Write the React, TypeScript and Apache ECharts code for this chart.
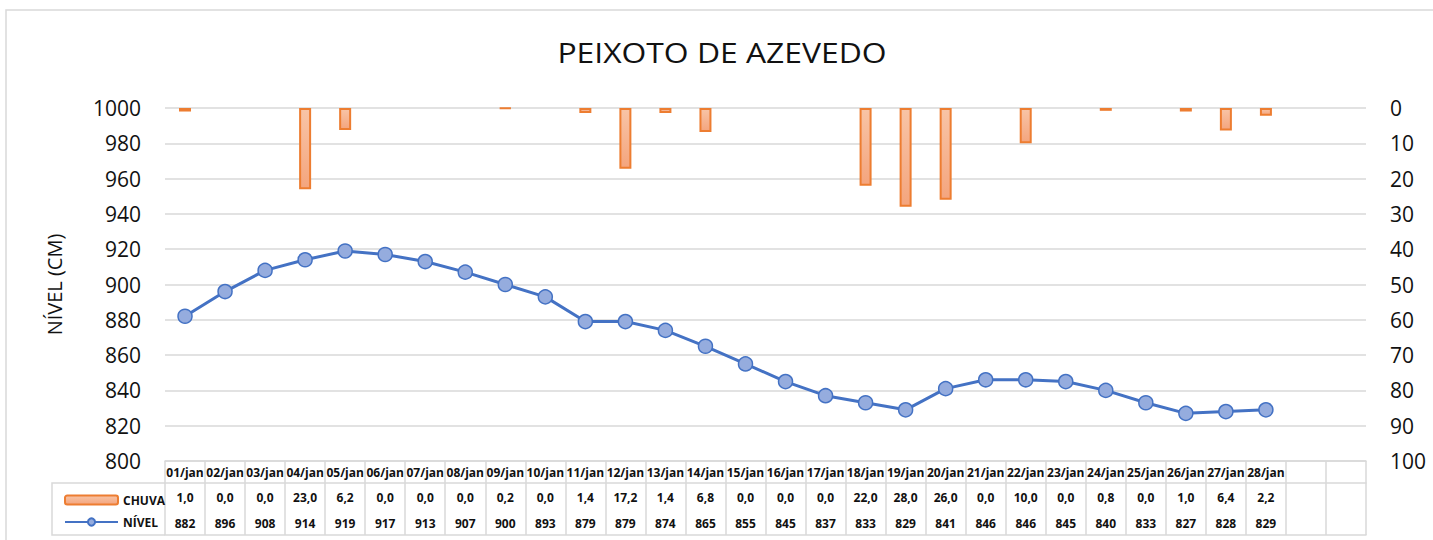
import { useEffect, useRef } from 'react';
import * as echarts from 'echarts';

const dates = [
  '01/jan', '02/jan', '03/jan', '04/jan', '05/jan', '06/jan', '07/jan',
  '08/jan', '09/jan', '10/jan', '11/jan', '12/jan', '13/jan', '14/jan',
  '15/jan', '16/jan', '17/jan', '18/jan', '19/jan', '20/jan', '21/jan',
  '22/jan', '23/jan', '24/jan', '25/jan', '26/jan', '27/jan', '28/jan',
];
const emptySlots = [' ', '  '];
const chuva = [
  1.0, 0.0, 0.0, 23.0, 6.2, 0.0, 0.0, 0.0, 0.2, 0.0, 1.4, 17.2, 1.4, 6.8,
  0.0, 0.0, 0.0, 22.0, 28.0, 26.0, 0.0, 10.0, 0.0, 0.8, 0.0, 1.0, 6.4, 2.2,
];
const nivel = [
  882, 896, 908, 914, 919, 917, 913, 907, 900, 893, 879, 879, 874, 865,
  855, 845, 837, 833, 829, 841, 846, 846, 845, 840, 833, 827, 828, 829,
];
const leftTicks = { min: 800, max: 1000, interval: 20 };
const rightTicks = { min: 0, max: 100, interval: 10 };

const FONT = 'Open Sans';
const GRID_COLOR = '#d9d9d9';
const TEXT = '#111111';

export default function App() {
  const ref = useRef<HTMLDivElement>(null);

  useEffect(() => {
    document.body.style.margin = '0';
    if (!ref.current) return;
    const chart = echarts.init(ref.current, undefined, { renderer: 'svg' });
    const categories = [...dates, ...emptySlots];
    const fmtChuva = (_v: string, i: number) =>
      i < chuva.length ? chuva[i].toFixed(1).replace('.', ',') : '';
    const fmtNivel = (_v: string, i: number) =>
      i < nivel.length ? String(nivel[i]) : '';
    const tableLabel = {
      fontFamily: FONT,
      fontWeight: 'bold' as const,
      fontSize: 12,
      color: TEXT,
    };
    const tableLine = { color: GRID_COLOR, width: 1.5 };

    chart.setOption({
      animation: false,
      backgroundColor: '#ffffff',
      graphic: [
        {
          type: 'rect',
          shape: { x: 6, y: 10, width: 1460, height: 560 },
          style: { fill: 'none', stroke: GRID_COLOR, lineWidth: 1.5 },
          silent: true,
          z: -10,
        },
        {
          type: 'text',
          x: 722,
          y: 39,
          scaleX: 1.18,
          style: {
            text: 'PEIXOTO DE AZEVEDO',
            fontFamily: FONT,
            fontSize: 27,
            fill: TEXT,
            align: 'center',
            verticalAlign: 'top',
          },
        },
        {
          type: 'polyline',
          shape: { points: [[165, 483], [52, 483], [52, 535], [165, 535]] },
          style: { fill: 'none', stroke: GRID_COLOR, lineWidth: 1.5 },
          silent: true,
        },
      ],
      legend: {
        orient: 'vertical',
        left: 59,
        top: 489,
        itemWidth: 53,
        itemHeight: 9,
        itemGap: 10,
        textStyle: tableLabel,
        data: ['CHUVA', 'NÍVEL'],
      },
      grid: { left: 165, right: 67, top: 108, bottom: 79, containLabel: false },
      xAxis: [
        {
          type: 'category',
          data: categories,
          position: 'bottom',
          axisLine: { show: true, onZero: false, lineStyle: tableLine },
          axisTick: { show: true, interval: 0, length: 74, lineStyle: tableLine },
          axisLabel: { interval: 0, margin: 5, ...tableLabel },
          splitLine: { show: false },
        },
        {
          type: 'category',
          data: categories,
          position: 'bottom',
          offset: 22,
          axisLine: { show: true, onZero: false, lineStyle: tableLine },
          axisTick: { show: false },
          axisLabel: { interval: 0, margin: 8, formatter: fmtChuva, ...tableLabel },
          splitLine: { show: false },
        },
        {
          type: 'category',
          data: categories,
          position: 'bottom',
          offset: 74,
          axisLine: { show: true, onZero: false, lineStyle: tableLine },
          axisTick: { show: false },
          axisLabel: {
            interval: 0,
            inside: true,
            margin: 6,
            formatter: fmtNivel,
            ...tableLabel,
          },
          splitLine: { show: false },
        },
      ],
      yAxis: [
        {
          type: 'value',
          position: 'left',
          ...leftTicks,
          name: 'NÍVEL (CM)',
          nameLocation: 'middle',
          nameGap: 101,
          nameRotate: 90,
          nameTextStyle: { fontFamily: FONT, fontSize: 20, color: TEXT },
          axisLine: { show: false },
          axisTick: { show: false },
          axisLabel: {
            margin: 24,
            fontFamily: FONT,
            fontSize: 21,
            color: TEXT,
            formatter: (v: number) => String(v),
          },
          splitLine: { show: true, lineStyle: tableLine },
        },
        {
          type: 'value',
          position: 'right',
          inverse: true,
          ...rightTicks,
          axisLine: { show: false },
          axisTick: { show: false },
          axisLabel: {
            margin: 24,
            fontFamily: FONT,
            fontSize: 21,
            color: TEXT,
            formatter: (v: number) => String(v),
          },
          splitLine: { show: false },
        },
      ],
      series: [
        {
          name: 'CHUVA',
          type: 'bar',
          xAxisIndex: 0,
          yAxisIndex: 1,
          barWidth: 12,
          data: chuva.map((v) => (v > 0 ? v : null)),
          itemStyle: {
            color: new echarts.graphic.LinearGradient(0, 0, 0, 1, [
              { offset: 0, color: '#f8c4a6' },
              { offset: 1, color: '#f4a57e' },
            ]),
            borderColor: '#ed7d31',
            borderWidth: 2,
          },
          z: 2,
        },
        {
          name: 'NÍVEL',
          type: 'line',
          xAxisIndex: 0,
          yAxisIndex: 0,
          data: nivel,
          symbol: 'circle',
          symbolSize: 14,
          lineStyle: { color: '#4472c4', width: 3 },
          itemStyle: { color: '#95acde', borderColor: '#4472c4', borderWidth: 1.5 },
          z: 3,
        },
      ],
    });

    return () => chart.dispose();
  }, []);

  return <div ref={ref} style={{ width: 1433, height: 540 }} />;
}
